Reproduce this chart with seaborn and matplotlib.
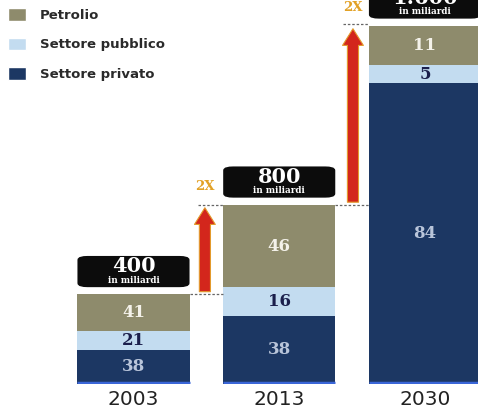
import matplotlib
matplotlib.use("Agg")
import matplotlib.pyplot as plt
from matplotlib.patches import Patch, FancyBboxPatch
import seaborn as sns
import pandas as pd

# Investment by source, shares (%) of the yearly total (billions)
years = ["2003", "2013", "2030"]
totals = [400, 800, 1600]
total_labels = ["400", "800", "1.600"]
privato = [38, 38, 84]
pubblico = [21, 16, 5]
petrolio = [41, 46, 11]
growth_labels = ["2X", "2X"]

series_names = ["Petrolio", "Settore pubblico", "Settore privato"]
c_oil = "#8e8b6c"
c_pub = "#c3dcf0"
c_priv = "#1c3763"

sns.set_theme(style="white")
plt.rcParams["font.family"] = ["DejaVu Sans"]

priv_abs = [t * p / 100 for t, p in zip(totals, privato)]
pub_abs = [t * p / 100 for t, p in zip(totals, pubblico)]
oil_abs = [t * p / 100 for t, p in zip(totals, petrolio)]

df = pd.DataFrame({
    "anno": years,
    "privato": priv_abs,
    "priv_pub": [a + b for a, b in zip(priv_abs, pub_abs)],
    "totale": [a + b + c for a, b, c in zip(priv_abs, pub_abs, oil_abs)],
})

fig = plt.figure(figsize=(4.78, 4.13), dpi=100)
ax = fig.add_axes([0, 29 / 413, 1, 384 / 413])

W = 0.77
# stacked bars drawn as layered cumulative heights
for col, colr in [("totale", c_oil), ("priv_pub", c_pub), ("privato", c_priv)]:
    sns.barplot(data=df, x="anno", y=col, color=colr, width=W,
                saturation=1, ax=ax, order=years, linewidth=0)

ax.set_xlim(-0.916, 2.364)
ax.set_ylim(0, 1716)
ax.set_xlabel("")
ax.set_ylabel("")
ax.set_yticks([])
for s in ax.spines.values():
    s.set_visible(False)
ax.tick_params(axis="x", length=0, pad=4, labelsize=14.5, labelcolor="#222222")

serif = ["DejaVu Serif"]

for i in range(len(years)):
    # bright base strip under each bar
    ax.hlines(4, i - W / 2, i + W / 2, color="#3a66d8", lw=2.5)
    # segment values
    ax.text(i, priv_abs[i] / 2, str(privato[i]), ha="center", va="center",
            fontsize=12, fontweight="bold", family=serif, color="#b9c5da")
    ax.text(i, priv_abs[i] + pub_abs[i] / 2, str(pubblico[i]), ha="center",
            va="center", fontsize=12, fontweight="bold", family=serif,
            color="#1b1f4c")
    ax.text(i, priv_abs[i] + pub_abs[i] + oil_abs[i] / 2, str(petrolio[i]),
            ha="center", va="center", fontsize=12, fontweight="bold",
            family=serif, color="#f4f2ea")
    # black total box above the bar
    top = totals[i]
    box = FancyBboxPatch((i - W / 2 + 0.01, top + 31 + 8), W - 0.02, 127,
                         boxstyle="round,pad=0.0,rounding_size=0.06",
                         mutation_aspect=200, facecolor="#0c0c0c",
                         edgecolor="#0c0c0c", lw=2, clip_on=False)
    ax.add_patch(box)
    ax.text(i, top + 31 + 95, total_labels[i], ha="center", va="center",
            fontsize=15, fontweight="bold", family=serif, color="white",
            clip_on=False)
    ax.text(i, top + 31 + 32, "in miliardi", ha="center", va="center",
            fontsize=6.3, fontweight="bold", family=serif, color="white",
            clip_on=False)

# growth arrows between consecutive totals
arrow_x = [0.49, 1.506]
for k in range(2):
    y0, y1 = totals[k], totals[k + 1]
    ax.annotate("", xy=(arrow_x[k], y1), xytext=(arrow_x[k], y0),
                arrowprops=dict(arrowstyle="simple,head_width=1.5,head_length=1.2,tail_width=0.8",
                                mutation_scale=10, facecolor="#d3261c",
                                edgecolor="#e39a2c", lw=0.8))
    ax.text(arrow_x[k], y1 + 82, growth_labels[k], ha="center", va="center",
            fontsize=9.5, fontweight="bold", family=serif, color="#e2a126",
            clip_on=False)

# dashed reference lines at each total level
dash = dict(color="#666666", lw=0.9, ls=(0, (2, 1.5)))
ax.hlines(totals[0], 0 + W / 2, 1 - W / 2, **dash)
ax.hlines(totals[1], arrow_x[0] - 0.05, 1 - W / 2, **dash)
ax.hlines(totals[1], 1 + W / 2, 2 - W / 2, **dash)
ax.hlines(totals[2] + 10, arrow_x[1] - 0.07, 2 - W / 2, **dash)

handles = [Patch(facecolor=c_oil), Patch(facecolor=c_pub), Patch(facecolor=c_priv)]
fig.legend(handles, series_names, loc="upper left", bbox_to_anchor=(0.0, 1.0),
           frameon=False, prop=dict(size=9.5, weight="bold"),
           handlelength=1.35, handleheight=1.1, handletextpad=1.05,
           labelspacing=1.2, borderaxespad=0.2, labelcolor="#2a2a2a")

fig.savefig("out.png", dpi=100, facecolor="white")
